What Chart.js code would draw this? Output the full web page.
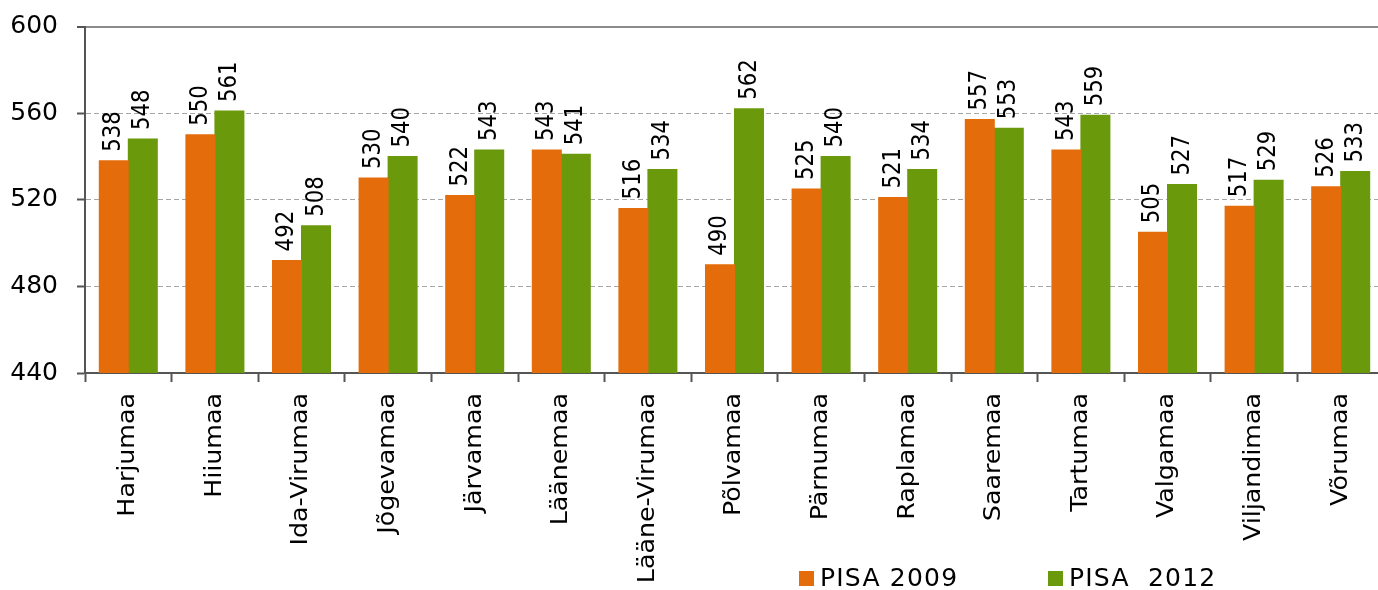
<!DOCTYPE html>
<html>
<head>
<meta charset="utf-8">
<script src="https://cdn.jsdelivr.net/npm/chart.js@4/dist/chart.umd.min.js"></script>
<style>
    html, body { margin: 0; padding: 0; background: #ffffff; overflow: hidden; }
    #wrap { position: relative; width: 1378px; height: 590px; overflow: hidden; }
    #chart { position: absolute; left: 0; top: 0; }
    .legend-item {
        position: absolute; top: 565px; height: 25px;
        font-family: "DejaVu Sans", Verdana, sans-serif; font-size: 25px;
        line-height: 25px; color: #000; white-space: pre; letter-spacing: 1.2px;
    }
    .legend-item span.box {
        position: absolute; left: -21px; top: 6px; width: 15px; height: 15px;
    }
</style>
</head>
<body>
<div id="wrap">
    <canvas id="chart" width="1384" height="590"></canvas>
    <div class="legend-item" style="left:820px"><span class="box" style="background:#e46c0a"></span>PISA 2009</div>
    <div class="legend-item" style="left:1069px"><span class="box" style="background:#6b990c"></span>PISA  2012</div>
</div>
<script>
/* ------------------------------------------------------------
   DATA
------------------------------------------------------------ */
const counties = [
    "Harjumaa", "Hiiumaa", "Ida-Virumaa", "Jõgevamaa", "Järvamaa",
    "Läänemaa", "Lääne-Virumaa", "Põlvamaa", "Pärnumaa", "Raplamaa",
    "Saaremaa", "Tartumaa", "Valgamaa", "Viljandimaa", "Võrumaa"
];
const pisa2009 = [538, 550, 492, 530, 522, 543, 516, 490, 525, 521, 557, 543, 505, 517, 526];
const pisa2012 = [548, 561, 508, 540, 543, 541, 534, 562, 540, 534, 553, 559, 527, 529, 533];
const yTicks = [440, 480, 520, 560, 600];

const ORANGE = "#e46c0a";
const GREEN = "#6b990c";
const FONT = "'DejaVu Sans', Verdana, sans-serif";

/* ------------------------------------------------------------
   PLUGIN: rotated value labels + rotated category labels
------------------------------------------------------------ */
const rotatedText = {
    id: "rotatedText",
    afterDatasetsDraw(chart) {
        const ctx = chart.ctx;
        ctx.save();
        ctx.fillStyle = "#000";
        ctx.font = "25px " + FONT;
        ctx.textAlign = "left";
        ctx.textBaseline = "middle";
        chart.data.datasets.forEach((ds, di) => {
            chart.getDatasetMeta(di).data.forEach((bar, i) => {
                ctx.save();
                ctx.translate(bar.x, bar.y - 9);
                ctx.rotate(-Math.PI / 2);
                ctx.scale(0.85, 1);
                ctx.fillText(String(ds.data[i]), 0, 0);
                ctx.restore();
            });
        });
        ctx.restore();
    },
    afterDraw(chart) {
        const ctx = chart.ctx;
        const xs = chart.scales.x;
        ctx.save();
        ctx.fillStyle = "#000";
        ctx.font = "23px " + FONT;
        ctx.textAlign = "right";
        ctx.textBaseline = "middle";
        counties.forEach((name, i) => {
            ctx.save();
            ctx.translate(xs.getPixelForValue(i), xs.top + 20);
            ctx.rotate(-Math.PI / 2);
            ctx.scale(1.1, 1);
            ctx.fillText(name, 0, 0);
            ctx.restore();
        });
        ctx.restore();
    }
};

/* ------------------------------------------------------------
   CHART
------------------------------------------------------------ */
new Chart(document.getElementById("chart"), {
    type: "bar",
    data: {
        labels: counties,
        datasets: [
            { label: "PISA 2009", data: pisa2009, backgroundColor: ORANGE,
              borderWidth: 0, inflateAmount: 0.5 },
            { label: "PISA  2012", data: pisa2012, backgroundColor: GREEN,
              borderWidth: 0, inflateAmount: 0.5 }
        ]
    },
    options: {
        responsive: false,
        animation: false,
        layout: { padding: { top: 25, left: 0, right: 0, bottom: 0 } },
        datasets: { bar: { categoryPercentage: 0.67, barPercentage: 1.0 } },
        plugins: { legend: { display: false }, tooltip: { enabled: false } },
        scales: {
            x: {
                ticks: { display: false },
                grid: { offset: true, drawOnChartArea: false, drawTicks: true,
                        tickLength: 9, tickColor: "#555", tickWidth: 2 },
                border: { color: "#555", width: 2 },
                afterFit: s => { s.height = 217; }
            },
            y: {
                min: yTicks[0],
                max: yTicks[yTicks.length - 1],
                afterBuildTicks: s => { s.ticks = yTicks.map(v => ({ value: v })); },
                ticks: { color: "#000", font: { size: 25, family: FONT, lineHeight: 0.6 }, padding: 19 },
                grid: {
                    color: c => c.tick && c.tick.value === 600 ? "#8c8c8c"
                              : c.tick && c.tick.value === 440 ? "rgba(0,0,0,0)" : "#a6a6a6",
                    lineWidth: c => c.tick && c.tick.value === 600 ? 2 : 1,
                    tickLength: 8, tickColor: "#555", tickWidth: 2
                },
                border: {
                    color: "#555", width: 2,
                    dash: c => c.tick && c.tick.value === 600 ? [] : [5, 3]
                },
                afterFit: s => { s.width = 85; }
            }
        }
    },
    plugins: [rotatedText]
});
</script>
</body>
</html>
